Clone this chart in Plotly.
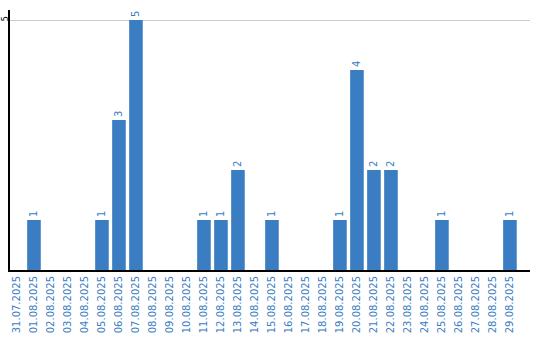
import plotly.graph_objects as go

dates = ["31.07.2025","01.08.2025","02.08.2025","03.08.2025","04.08.2025","05.08.2025",
         "06.08.2025","07.08.2025","08.08.2025","09.08.2025","10.08.2025","11.08.2025",
         "12.08.2025","13.08.2025","14.08.2025","15.08.2025","16.08.2025","17.08.2025",
         "18.08.2025","19.08.2025","20.08.2025","21.08.2025","22.08.2025","23.08.2025",
         "24.08.2025","25.08.2025","26.08.2025","27.08.2025","28.08.2025","29.08.2025"]
counts = [0,1,0,0,0,1,3,5,0,0,0,1,1,2,0,1,0,0,0,1,4,2,2,0,0,1,0,0,0,1]

blue = "#3a7dc2"
labels = [str(v) if v > 0 else "" for v in counts]

fig = go.Figure(go.Bar(
    x=dates, y=counts, text=labels, textposition="outside", textangle=-90,
    textfont=dict(color=blue, size=10, family="DejaVu Sans"),
    marker=dict(color=blue, line=dict(width=0)), width=0.8, cliponaxis=False,
))
fig.update_layout(
    width=540, height=340, margin=dict(l=10, r=10, t=10, b=70, autoexpand=False),
    paper_bgcolor="white", plot_bgcolor="white", showlegend=False,
    xaxis=dict(type="category", range=[-0.41, 30.18], tickangle=-90, automargin=False,
               tickfont=dict(color=blue, size=10, family="DejaVu Sans"),
               showline=True, linecolor="black", linewidth=2, showgrid=False,
               ticks="", fixedrange=True),
    yaxis=dict(range=[0, 5.2], tickvals=[5], ticktext=["5"], tickangle=-90, automargin=False,
               tickfont=dict(color="black", size=8, family="DejaVu Sans"),
               ticklabelstandoff=-3,
               showline=True, linecolor="black", linewidth=2,
               showgrid=True, gridcolor="#cccccc", gridwidth=1,
               zeroline=False, ticks="", ticklen=0),
)
fig.write_html("out.html")
